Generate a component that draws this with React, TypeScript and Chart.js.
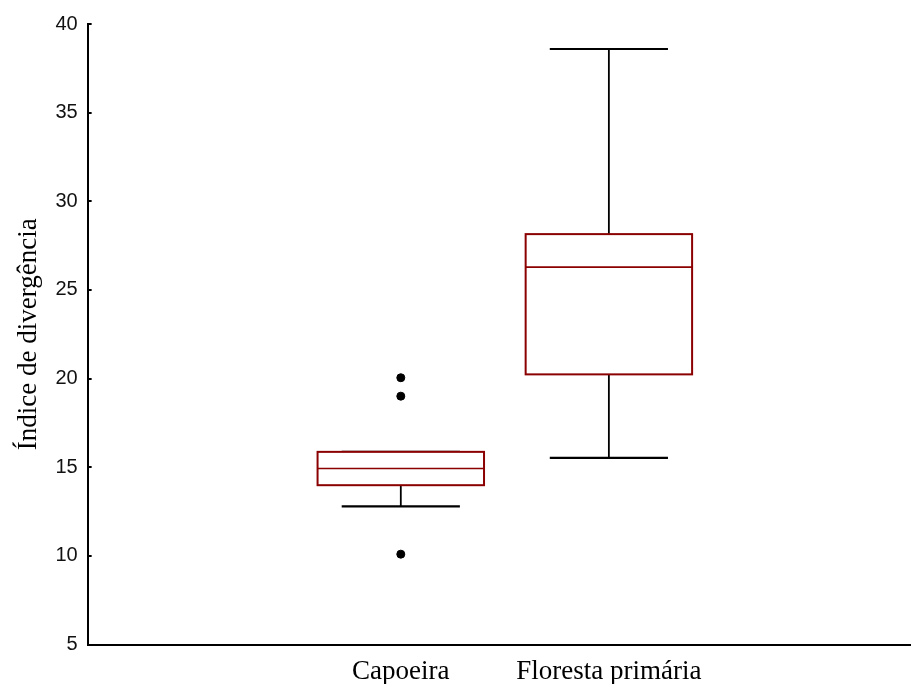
import React, { useEffect, useRef } from "react";
import { Chart, registerables } from "chart.js";

Chart.register(...registerables);

const categories = ["Capoeira", "Floresta primária"];
const categoryPositions = [1, 2];
const whiskerLow = [12.8, 15.53];
const q1 = [13.99, 20.24];
const median = [14.93, 26.29];
const q3 = [15.87, 28.15];
const whiskerHigh = [15.87, 38.59];
const outlierCategory = [0, 0, 0];
const outlierValues = [20.05, 19.01, 10.1];
const yMin = 5;
const yMax = 40;
const yStep = 5;

const BOX_HALF = 0.4;
const CAP_HALF = 0.284;
const BOX_COLOR = "#8b0000";

const boxPlugin = {
  id: "boxPlugin",
  beforeDatasetsDraw(chart: any) {
    const { ctx, scales } = chart;
    const xs = scales.x;
    const ys = scales.y;
    ctx.save();
    categoryPositions.forEach((pos, i) => {
      const xc = xs.getPixelForValue(pos);
      const xl = xs.getPixelForValue(pos - BOX_HALF);
      const xr = xs.getPixelForValue(pos + BOX_HALF);
      const cl = xs.getPixelForValue(pos - CAP_HALF);
      const cr = xs.getPixelForValue(pos + CAP_HALF);
      const yq1 = ys.getPixelForValue(q1[i]);
      const yq3 = ys.getPixelForValue(q3[i]);
      const ymed = ys.getPixelForValue(median[i]);
      const ylo = ys.getPixelForValue(whiskerLow[i]);
      const yhi = ys.getPixelForValue(whiskerHigh[i]);
      ctx.strokeStyle = "#000";
      ctx.lineWidth = 1.8;
      ctx.beginPath();
      ctx.moveTo(xc, yq3);
      ctx.lineTo(xc, yhi);
      ctx.moveTo(xc, yq1);
      ctx.lineTo(xc, ylo);
      ctx.stroke();
      ctx.lineWidth = 2.2;
      ctx.beginPath();
      ctx.moveTo(cl, yhi);
      ctx.lineTo(cr, yhi);
      ctx.moveTo(cl, ylo);
      ctx.lineTo(cr, ylo);
      ctx.stroke();
      ctx.fillStyle = "#fff";
      ctx.fillRect(xl, yq3, xr - xl, yq1 - yq3);
      ctx.strokeStyle = BOX_COLOR;
      ctx.lineWidth = 2;
      ctx.strokeRect(xl, yq3, xr - xl, yq1 - yq3);
      ctx.lineWidth = 1.6;
      ctx.beginPath();
      ctx.moveTo(xl, ymed);
      ctx.lineTo(xr, ymed);
      ctx.stroke();
    });
    ctx.restore();
  },
  afterDraw(chart: any) {
    const { ctx, scales, chartArea } = chart;
    const ys = scales.y;
    ctx.save();
    ctx.strokeStyle = "#000";
    ctx.lineWidth = 2;
    ctx.beginPath();
    ys.ticks.forEach((t: any) => {
      const y = Math.round(ys.getPixelForValue(t.value));
      ctx.moveTo(chartArea.left, y);
      ctx.lineTo(chartArea.left + 4, y);
    });
    ctx.stroke();
    ctx.restore();
  },
};

export default function App() {
  const ref = useRef<HTMLCanvasElement>(null);
  useEffect(() => {
    if (!ref.current) return;
    const chart = new Chart(ref.current, {
      type: "scatter",
      data: {
        datasets: [
          {
            data: outlierValues.map((v, i) => ({ x: categoryPositions[outlierCategory[i]], y: v })),
            backgroundColor: "#000",
            borderColor: "#000",
            pointRadius: 4,
            pointHoverRadius: 4,
          },
        ],
      },
      options: {
        responsive: false,
        animation: false,
        events: [],
        layout: { padding: { top: 24, right: 0, left: 0, bottom: 0 } },
        plugins: { legend: { display: false }, tooltip: { enabled: false } },
        scales: {
          x: {
            type: "linear",
            min: -0.505,
            max: 3.452,
            afterBuildTicks: (scale: any) => {
              scale.ticks = categoryPositions.map((v) => ({ value: v }));
            },
            grid: { display: false, drawTicks: false },
            border: { display: true, color: "#000", width: 2 },
            ticks: {
              autoSkip: false,
              maxRotation: 0,
              padding: 11,
              color: "#000",
              font: { family: "'Liberation Serif', 'Times New Roman', serif", size: 27 },
              callback: (value: any) => {
                const idx = categoryPositions.indexOf(Number(value));
                return idx >= 0 ? categories[idx] : "";
              },
            },
          },
          y: {
            type: "linear",
            min: yMin,
            max: yMax,
            grid: { display: false, drawTicks: false },
            border: { display: true, color: "#000", width: 2 },
            ticks: {
              stepSize: yStep,
              padding: 10,
              color: "#111",
              font: { family: "'Liberation Sans', Arial, sans-serif", size: 20 },
            },
            title: {
              display: true,
              text: "Índice de divergência",
              color: "#000",
              padding: { top: 13, bottom: 0 },
              font: { family: "'Liberation Serif', 'Times New Roman', serif", size: 27, weight: "normal" },
            },
          },
        },
      },
      plugins: [boxPlugin],
    } as any);
    return () => chart.destroy();
  }, []);
  return (
    <div style={{ position: "fixed", left: 0, top: 0, width: 911, height: 684, overflow: "hidden", background: "#fff" }}>
      <canvas ref={ref} width={916} height={699} style={{ display: "block" }} />
    </div>
  );
}
